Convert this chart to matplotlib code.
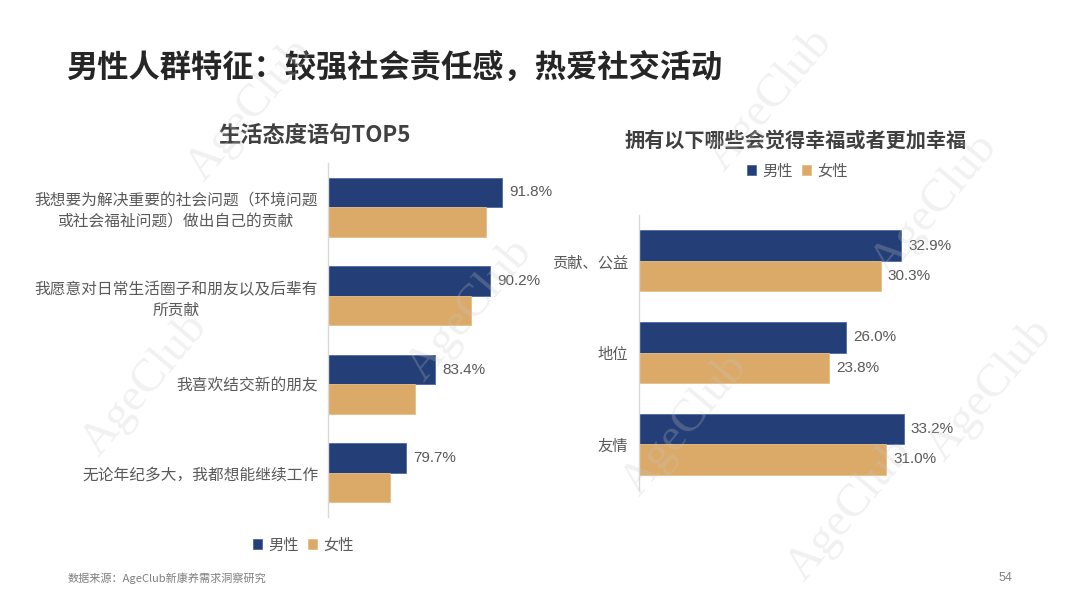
import matplotlib
matplotlib.use('Agg')
import matplotlib.pyplot as plt
import numpy as np

CJK = ['Noto Sans CJK SC', 'DejaVu Sans']
NUM = ['Liberation Sans', 'DejaVu Sans']
plt.rcParams['font.family'] = CJK

# ---------------- data ----------------
title = '男性人群特征：较强社会责任感，热爱社交活动'
left_title = '生活态度语句TOP5'
left_categories = ['我想要为解决重要的社会问题（环境问题\n或社会福祉问题）做出自己的贡献',
                   '我愿意对日常生活圈子和朋友以及后辈有\n所贡献',
                   '我喜欢结交新的朋友',
                   '无论年纪多大，我都想能继续工作']
left_male = [91.8, 90.2, 83.4, 79.7]
left_female = [89.7, 87.9, 80.9, 77.7]

right_title = '拥有以下哪些会觉得幸福或者更加幸福'
right_categories = ['贡献、公益', '地位', '友情']
right_male = [32.9, 26.0, 33.2]
right_female = [30.3, 23.8, 31.0]

series_names = ['男性', '女性']
source_text = '数据来源：AgeClub新康养需求洞察研究'
page_number = '54'
watermark = 'AgeClub'

# ---------------- style ----------------
NAVY = '#243F77'
TAN = '#DBAA69'
LABEL = '#595959'
W, H = 1080, 606

fig = plt.figure(figsize=(W / 100, H / 100), dpi=100)
fig.patch.set_facecolor('white')


def fx(px):
    return px / W


def fy(py):
    return 1 - py / H


def style_axes(ax, pad):
    for s in ['top', 'right', 'bottom']:
        ax.spines[s].set_visible(False)
    ax.spines['left'].set_color('#D9D9D9')
    ax.spines['left'].set_linewidth(1.0)
    ax.set_xticks([])
    ax.tick_params(axis='y', length=0, pad=pad, labelcolor=LABEL)
    ax.set_facecolor('none')


def draw_group(ax, cats, male, female, xmin, xmax, label_female, offset, fs_cat):
    n = len(cats)
    y = np.arange(n)
    h = 1 / 3
    ax.barh(y - h / 2, male, height=h, color=NAVY, edgecolor='#4A6AA8', linewidth=0.6,
            label=series_names[0])
    ax.barh(y + h / 2, female, height=h, color=TAN, edgecolor='#E6BE86', linewidth=0.6,
            label=series_names[1])
    ax.set_xlim(xmin, xmax)
    ax.set_ylim(n - 0.5, -0.5)
    ax.set_yticks(y)
    ax.set_yticklabels(cats, fontsize=fs_cat, linespacing=1.3)
    for lab in ax.get_yticklabels():
        lab.set_multialignment('center')
    for i, v in enumerate(male):
        ax.text(v + offset, y[i] - h / 2, f'{v:.1f}%', va='center', ha='left',
                fontsize=11, color=LABEL, family=NUM)
    if label_female:
        for i, v in enumerate(female):
            ax.text(v + offset, y[i] + h / 2, f'{v:.1f}%', va='center', ha='left',
                    fontsize=11, color=LABEL, family=NUM)


# left chart
axL = fig.add_axes([fx(328), fy(517), fx(240), 354 / H])
style_axes(axL, 7)
draw_group(axL, left_categories, left_male, left_female, 70, 100, False, 0.9, 11.3)
axL.legend(loc='center', bbox_to_anchor=(fx(303), fy(545)), bbox_transform=fig.transFigure,
           ncol=2, frameon=False, fontsize=11, handlelength=0.6, handleheight=0.6,
           handletextpad=0.4, columnspacing=0.6, labelcolor=LABEL)

# right chart
axR = fig.add_axes([fx(639), fy(490), fx(319), 275 / H])
style_axes(axR, 8)
draw_group(axR, right_categories, right_male, right_female, 0, 40, True, 0.9, 11)
axR.legend(loc='center', bbox_to_anchor=(fx(797), fy(171)), bbox_transform=fig.transFigure,
           ncol=2, frameon=False, fontsize=11, handlelength=0.6, handleheight=0.6,
           handletextpad=0.4, columnspacing=0.6, labelcolor=LABEL)

# titles
fig.text(fx(66), fy(68), title, fontsize=22.5, fontweight='bold', color='#262626',
         ha='left', va='center')
fig.text(fx(315), fy(135), left_title, fontsize=16, fontweight='bold', color='#404040',
         ha='center', va='center')
fig.text(fx(796), fy(140), right_title, fontsize=14.5, fontweight='bold', color='#404040',
         ha='center', va='center')

# footer
fig.text(fx(68), fy(578), source_text, fontsize=8, color='#7F7F7F', ha='left', va='center')
fig.text(fx(1012), fy(578), page_number, fontsize=9, color='#7F7F7F', ha='right', va='center',
         family=NUM)

# watermarks
for (px, py) in [(145, 385), (250, 110), (470, 310), (685, 425),
                 (770, 100), (935, 205), (990, 390), (850, 510)]:
    fig.text(fx(px), fy(py), watermark, fontsize=34, family=['Liberation Serif'],
             color='#C8C8C8', alpha=0.25, rotation=50, ha='center', va='center', zorder=10)

fig.savefig('out.png', dpi=100)
